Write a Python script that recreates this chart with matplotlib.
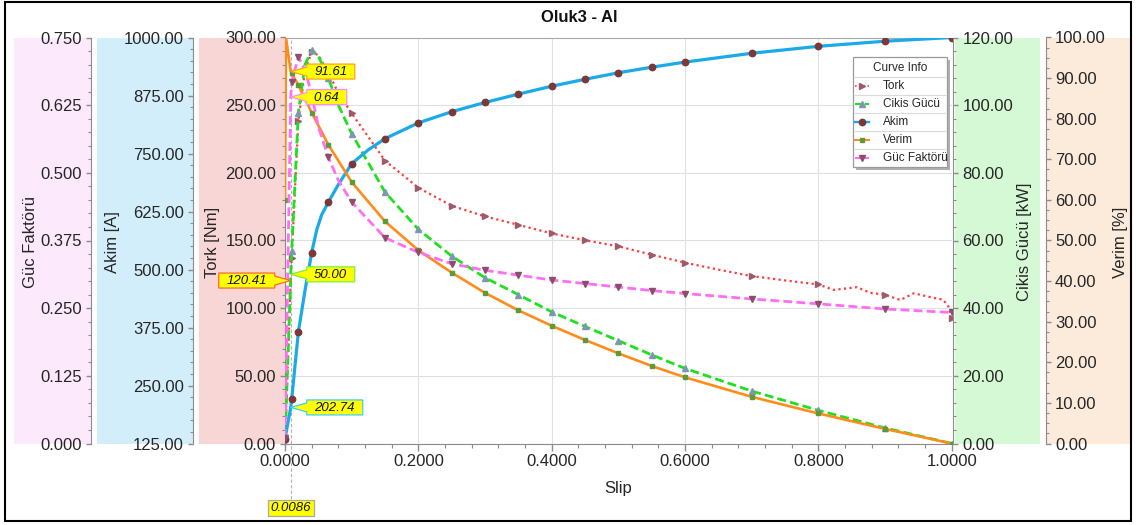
import matplotlib
matplotlib.use("Agg")
import matplotlib.pyplot as plt
from matplotlib.patches import Rectangle, Polygon
from matplotlib.lines import Line2D
from matplotlib.transforms import IdentityTransform
from matplotlib.ticker import MultipleLocator, FormatStrFormatter

plt.rcParams['font.family'] = ['Liberation Sans', 'DejaVu Sans']

# ---------------------------------------------------------------- data
chart_title = "Oluk3 - Al"
slip_label = "Slip"
legend_title = "Curve Info"
series_names = ["Tork", "Cikis Gücü", "Akim", "Verim", "Güc Faktörü"]
label_tork = "Tork [Nm]"
label_cikis = "Cikis Gücü [kW]"
label_akim = "Akim [A]"
label_verim = "Verim [%]"
label_pf = "Güc Faktörü"

# cursor read-out at the rated slip
cursor_slip = 0.0086
cursor_tork = 120.41
cursor_cikis = 50.00
cursor_akim = 202.74
cursor_verim = 91.61
cursor_pf = 0.64

# slips carrying a marker symbol
marker_slip = [0.0, 0.01, 0.02, 0.04, 0.065, 0.1, 0.15, 0.2, 0.25, 0.3, 0.35,
               0.4, 0.45, 0.5, 0.55, 0.6, 0.7, 0.8, 0.9, 1.0]

tork_slip = [0.0, cursor_slip, 0.01, 0.02, 0.03, 0.04, 0.05, 0.065, 0.08, 0.1,
             0.15, 0.2, 0.25, 0.3, 0.35, 0.4, 0.45, 0.5, 0.55, 0.6, 0.65, 0.7,
             0.75, 0.8, 0.823, 0.858, 0.878, 0.9, 0.923, 0.943, 0.973, 0.987,
             0.995, 1.0]
tork_nm = [2.0, cursor_tork, 137.0, 238.0, 276.0, 289.0, 287.0, 274.0, 259.0,
           244.0, 209.0, 189.0, 175.7, 167.8, 161.6, 155.2, 150.2, 145.7, 139.5,
           133.6, 128.5, 123.7, 120.5, 117.5, 113.5, 115.5, 111.3, 110.0, 106.0,
           111.0, 107.6, 106.3, 101.3, 92.7]

cikis_slip = [0.0, cursor_slip, 0.01, 0.02, 0.03, 0.04, 0.05, 0.065, 0.08, 0.1,
              0.15, 0.2, 0.25, 0.3, 0.35, 0.4, 0.45, 0.5, 0.55, 0.6, 0.7, 0.8,
              0.9, 1.0]
cikis_kw = [0.0, cursor_cikis, 57.0, 97.8, 112.0, 116.2, 114.5, 108.0, 100.0,
            91.6, 74.3, 63.3, 55.4, 49.0, 44.0, 38.9, 34.6, 30.4, 26.2, 22.2,
            15.5, 9.8, 4.6, 0.0]

akim_slip = [0.0, cursor_slip, 0.01, 0.02, 0.03, 0.04, 0.0475, 0.055, 0.065,
             0.08, 0.1, 0.125, 0.15, 0.2, 0.25, 0.3, 0.35, 0.4, 0.45, 0.5,
             0.55, 0.6, 0.7, 0.8, 0.9, 1.0]
akim_a = [135.0, cursor_akim, 220.0, 365.0, 455.0, 536.0, 585.0, 618.0, 645.0,
          683.0, 728.0, 758.0, 782.0, 816.0, 840.0, 860.0, 878.0, 895.0, 910.0,
          924.0, 936.0, 947.0, 966.0, 981.0, 992.0, 1000.0]

verim_slip = [0.0, 0.0015, cursor_slip, 0.01, 0.02, 0.04, 0.065, 0.1, 0.15,
              0.2, 0.25, 0.3, 0.35, 0.4, 0.45, 0.5, 0.55, 0.6, 0.7, 0.8, 0.9,
              1.0]
verim_pct = [60.0, 100.0, cursor_verim, 91.2, 88.3, 81.5, 73.6, 64.4, 54.7,
             47.6, 42.1, 37.1, 32.8, 29.0, 25.5, 22.2, 19.1, 16.3, 11.5, 7.4,
             3.6, 0.0]

pf_slip = [0.0, cursor_slip, 0.01, 0.02, 0.03, 0.04, 0.05, 0.065, 0.08, 0.1,
           0.15, 0.2, 0.25, 0.3, 0.35, 0.4, 0.45, 0.5, 0.55, 0.6, 0.7, 0.8,
           0.9, 1.0]
pf_val = [0.01, cursor_pf, 0.667, 0.714, 0.690, 0.645, 0.585, 0.529, 0.486,
          0.446, 0.380, 0.353, 0.332, 0.320, 0.311, 0.302, 0.2955, 0.289,
          0.2825, 0.277, 0.267, 0.258, 0.2485, 0.242]

# ---------------------------------------------------------------- layout
W, H, DPI = 1136, 525, 100
PX2PT = 72.0 / DPI
fig = plt.figure(figsize=(W / DPI, H / DPI), dpi=DPI)
fig.patch.set_facecolor('white')


def fx(px):
    return px / W


def fy(py):
    return 1.0 - py / H


PL, PR, PT, PB = 285.0, 951.7, 37.5, 443.5
rect = [fx(PL), fy(PB), (PR - PL) / W, (PB - PT) / H]

SPINE = '#8C8C8C'
TXT = '#262626'

# coloured strips behind each value scale
panels = [(14, 90.7, '#FDE9FC'), (97.3, 192.7, '#D3EEFB'),
          (199, 285, '#F9D6D6'), (954.5, 1040, '#D4F9D4'),
          (1047, 1131, '#FCEADA')]
for x0, x1, c in panels:
    fig.add_artist(Rectangle((fx(x0), fy(PB)), (x1 - x0) / W, (PB - PT) / H,
                             transform=fig.transFigure, facecolor=c,
                             edgecolor='none', zorder=-5))

ax = fig.add_axes(rect)
ax.set_xlim(0, 1)
ax.xaxis.set_major_locator(MultipleLocator(0.2))
ax.xaxis.set_minor_locator(MultipleLocator(0.04))
ax.xaxis.set_major_formatter(FormatStrFormatter('%.4f'))
ax.tick_params(axis='x', which='major', direction='out', length=7 * PX2PT,
               width=1, color=SPINE, labelsize=12, labelcolor=TXT,
               pad=4 * PX2PT)
ax.tick_params(axis='x', which='minor', direction='out', length=4 * PX2PT,
               width=0.8, color=SPINE)
ax.grid(True, which='major', color='#E0E0E0', lw=0.8)
ax.set_axisbelow(True)


def style_y(a, side, lo, hi, major, minor, fmt, offset_px, keep_top=False):
    a.set_ylim(lo, hi)
    a.yaxis.set_major_locator(MultipleLocator(major))
    a.yaxis.set_minor_locator(MultipleLocator(minor))
    a.yaxis.set_major_formatter(FormatStrFormatter(fmt))
    a.yaxis.set_ticks_position(side)
    for s in a.spines:
        a.spines[s].set_visible(s == side or (keep_top and s in ('top', 'bottom')))
        a.spines[s].set_color(SPINE)
    if keep_top:
        a.spines['top'].set_color('#A8A8A8')
    a.spines[side].set_position(('outward', offset_px * PX2PT))
    a.tick_params(axis='y', which='major', direction='out', length=5 * PX2PT,
                  width=1, color=SPINE, labelsize=12, labelcolor=TXT,
                  pad=4 * PX2PT)
    a.tick_params(axis='y', which='minor', direction='out',
                  length=2.6 * PX2PT, width=0.8, color=SPINE)


def twin():
    a = fig.add_axes(rect, sharex=ax)
    a.patch.set_visible(False)
    a.tick_params(axis='x', which='both', bottom=False, top=False,
                  labelbottom=False, labeltop=False)
    return a


style_y(ax, 'left', 0, 300, 50, 10, '%.2f', 0, keep_top=True)
ax_cikis = twin()
style_y(ax_cikis, 'right', 0, 120, 20, 4, '%.2f', 1.6)
ax_akim = twin()
style_y(ax_akim, 'left', 125, 1000, 125, 25, '%.2f', PL - 192.7)
ax_verim = twin()
style_y(ax_verim, 'right', 0, 100, 10, 2.5, '%.2f', 1046 - PR)
ax_pf = twin()
style_y(ax_pf, 'left', 0, 0.75, 0.125, 0.025, '%.3f', PL - 90.7)

# ---------------------------------------------------------------- series
styles = {
    "Tork": dict(color='#FF3B3B', ls=(0, (1.0, 1.5)), lw=1.6, marker='>',
                 mc='#9C5A6C', ms=5.0),
    "Cikis Gücü": dict(color='#1FE01F', ls=(0, (3.2, 1.5)), lw=2.0,
                       marker='^', mc='#7C98AE', ms=5.0),
    "Akim": dict(color='#1AAAE8', ls='-', lw=2.3, marker='o', mc='#7B3838',
                 ms=4.6),
    "Verim": dict(color='#FF8C1A', ls='-', lw=1.9, marker='s', mc='#5E9A3A',
                  ms=2.8),
    "Güc Faktörü": dict(color='#FF6EF5', ls=(0, (3.2, 1.5)), lw=2.0,
                        marker='v', mc='#8C4E6A', ms=5.0),
}


def marker_index(slips):
    return [i for i, s in enumerate(slips)
            if any(abs(s - m) < 1e-9 for m in marker_slip)]


plot_sets = [(ax, tork_slip, tork_nm, "Tork"),
             (ax_cikis, cikis_slip, cikis_kw, "Cikis Gücü"),
             (ax_akim, akim_slip, akim_a, "Akim"),
             (ax_verim, verim_slip, verim_pct, "Verim"),
             (ax_pf, pf_slip, pf_val, "Güc Faktörü")]
for a, xs, ys, name in plot_sets:
    st = styles[name]
    a.plot(xs, ys, color=st['color'], linestyle=st['ls'], lw=st['lw'],
           marker=st['marker'], markevery=marker_index(xs),
           mfc=st['mc'], mec=st['mc'], ms=st['ms'], zorder=3)

# cursor line at the rated slip
ax.axvline(cursor_slip, ymin=-0.137, ymax=1.0, color='#B4B4B4', lw=0.8,
           ls=(0, (3, 2)), clip_on=False, zorder=2)

# ---------------------------------------------------------------- text
fig.text(fx(579), fy(17), chart_title, ha='center', va='center',
         fontsize=12, fontweight='bold', color='#111111')
fig.text(fx(618), fy(488), slip_label, ha='center', va='center',
         fontsize=12, color=TXT)
for xpix, lab in [(31, label_pf), (113, label_akim), (213, label_tork),
                  (1025, label_cikis), (1120, label_verim)]:
    fig.text(fx(xpix), fy(242), lab, rotation=90, ha='center', va='center',
             fontsize=12, color=TXT)

# ---------------------------------------------------------------- callouts
IDT = IdentityTransform()


def callout(a, yval, text, edge, side='right'):
    tx, ty = a.transData.transform((cursor_slip, yval))
    w = 8 * len(text) + 8
    h = 15
    gap = 16
    hb = 4.5
    if side == 'right':
        x0 = tx + gap
        x1 = x0 + w
        pts = [(tx, ty), (x0, ty + hb), (x0, ty + h / 2), (x1, ty + h / 2),
               (x1, ty - h / 2), (x0, ty - h / 2), (x0, ty - hb)]
    else:
        x1 = tx - gap
        x0 = x1 - w
        pts = [(tx, ty), (x1, ty - hb), (x1, ty - h / 2), (x0, ty - h / 2),
               (x0, ty + h / 2), (x1, ty + h / 2), (x1, ty + hb)]
    fig.add_artist(Polygon(pts, closed=True, transform=IDT,
                           facecolor='#FFFF00', edgecolor=edge, lw=0.9,
                           zorder=20))
    t = fig.text(0, 0, text, ha='center', va='center', fontsize=9.5,
                 style='italic', color='#111111', zorder=21)
    t.set_transform(IDT)
    t.set_position(((x0 + x1) / 2, ty - 0.5))


callout(ax_verim, cursor_verim, f"{cursor_verim:.2f}", '#FFA31A')
callout(ax_pf, cursor_pf, f"{cursor_pf:.2f}", '#FF8CFF')
callout(ax_cikis, cursor_cikis, f"{cursor_cikis:.2f}", '#7CF03C')
callout(ax_akim, cursor_akim, f"{cursor_akim:.2f}", '#3CCFF5')
callout(ax, cursor_tork, f"{cursor_tork:.2f}", '#FF6A2A', side='left')

# slip read-out below the axis
cx, _ = ax.transData.transform((cursor_slip, 0))
bw, bh = 46, 16
by = H - 507.5
fig.add_artist(Rectangle((cx - bw / 2, by - bh / 2), bw, bh, transform=IDT,
                         facecolor='#FFFF00', edgecolor='#A8A8A8', lw=0.9,
                         zorder=20))
st_txt = fig.text(0, 0, f"{cursor_slip:.4f}", ha='center', va='center',
                  fontsize=9.5, style='italic', color='#111111', zorder=21)
st_txt.set_transform(IDT)
st_txt.set_position((cx, by - 0.5))

# ---------------------------------------------------------------- legend
LX0, LX1, LY0, LY1 = 852.7, 947.3, 56.7, 167.3
fig.add_artist(Rectangle((fx(LX0 + 3), fy(LY1 + 3)), (LX1 - LX0) / W,
                         (LY1 - LY0) / H, transform=fig.transFigure,
                         facecolor='#B0B0B0', edgecolor='none', zorder=14))
fig.add_artist(Rectangle((fx(LX0), fy(LY1)), (LX1 - LX0) / W,
                         (LY1 - LY0) / H, transform=fig.transFigure,
                         facecolor='white', edgecolor='#9A9A9A', lw=0.9,
                         zorder=15))
fig.text(fx((LX0 + LX1) / 2), fy(68.3), legend_title, ha='center',
         va='center', fontsize=8.5, color=TXT, zorder=16)
row_y = [86, 104, 122, 140, 158]
for k, (name, yrow) in enumerate(zip(series_names, row_y)):
    st = styles[name]
    fig.add_artist(Line2D([fx(LX0 + 2), fx(LX1 - 2)],
                          [fy(yrow - 9), fy(yrow - 9)],
                          transform=fig.transFigure, color='#DADADA',
                          lw=0.8, zorder=16))
    fig.add_artist(Line2D([fx(855), fx(869)], [fy(yrow), fy(yrow)],
                          transform=fig.transFigure, color=st['color'],
                          linestyle=st['ls'], lw=st['lw'] * 0.75, zorder=16))
    fig.add_artist(Line2D([fx(862)], [fy(yrow)], transform=fig.transFigure,
                          linestyle='none', marker=st['marker'],
                          mfc=st['mc'], mec=st['mc'], ms=st['ms'],
                          zorder=17))
    fig.text(fx(882.7), fy(yrow), name, ha='left', va='center',
             fontsize=8.5, color=TXT, zorder=16)

# outer frame
fig.add_artist(Rectangle((fx(5), fy(521)), (1131 - 5) / W, (521 - 1.5) / H,
                         transform=fig.transFigure, facecolor='none',
                         edgecolor='black', lw=1.5, zorder=30))

fig.savefig('out.png', dpi=DPI)
